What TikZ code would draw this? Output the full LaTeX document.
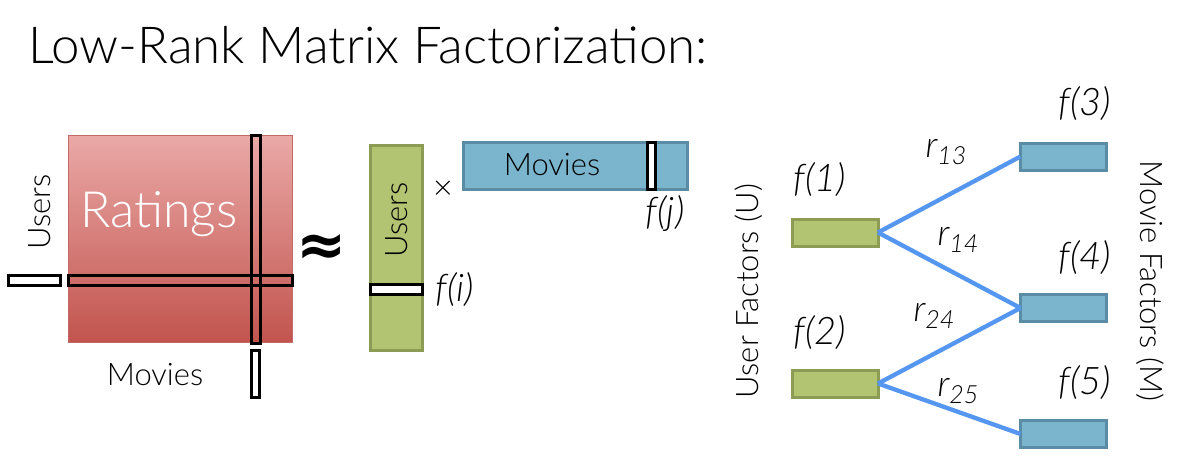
\documentclass[tikz,border=0pt]{standalone}
\usepackage{fontspec}
\setmainfont{Lato Light}[ItalicFont={Lato Light Italic}, BoldFont={Lato Bold}]
\newfontfamily\dejavu{DejaVu Sans}
\newcommand{\fsz}[1]{\fontsize{#1}{#1}\selectfont}
\newcommand{\rlab}[1]{\fsz{36}\itshape r\raisebox{-7pt}{\fsz{25}#1}}
\definecolor{ratetop}{HTML}{EAA9A7}
\definecolor{ratebot}{HTML}{C2544E}
\definecolor{rateedge}{HTML}{C46A66}
\definecolor{ufill}{HTML}{B2C372}
\definecolor{uedge}{HTML}{8C9C55}
\definecolor{mfill}{HTML}{7BB5CD}
\definecolor{medge}{HTML}{5A8CA5}
\definecolor{edgeblue}{HTML}{5597F0}
\tikzset{
  box/.style={rectangle, inner sep=0pt, outer sep=0pt},
  tab/.style={box, draw=black, line width=3pt},
  wtab/.style={tab, fill=white},
  ubox/.style={box, draw=uedge, fill=ufill, line width=3pt},
  mbox/.style={box, draw=medge, fill=mfill, line width=3pt},
  factor/.style={box, minimum width=86pt, minimum height=27pt},
  link/.style={draw=edgeblue, line width=4.3pt},
  lab/.style={inner sep=0pt, font=\fsz{31}},
  flab/.style={inner sep=0pt, font=\fsz{38}\itshape},
}
\begin{document}
\begin{tikzpicture}[x=1pt,y=-1pt]
\useasboundingbox (0,0) rectangle (1177,471);
% title
\node[anchor=base west, inner sep=0pt, font=\fsz{51}] (title) at (28,63) {Low-Rank Matrix Factorization:};
% ratings matrix
\node[box, draw=rateedge, line width=1pt, top color=ratetop, bottom color=ratebot, minimum width=224pt, minimum height=207pt] (R) at (180,238.5) {};
\node[inner sep=0pt, text=white, font=\fsz{50}] (rt) at (159,214) {Ratings};
\node[tab, minimum width=224pt, minimum height=10pt] (row) at (180,280) {};
\node[tab, minimum width=9pt, minimum height=208pt] (col) at (255.5,239) {};
\node[wtab, minimum width=52pt, minimum height=10pt] (rowtab) at (34,280) {};
\node[wtab, minimum width=8pt, minimum height=47pt] (coltab) at (255,373.5) {};
\node[lab, rotate=90] (usersL) at (40,212) {Users};
\node[lab] (moviesL) at (155,375) {Movies};
\node[inner sep=0pt, font=\dejavu\bfseries\fsz{60}] (approx) at (322,250) {≈};
% U matrix
\node[ubox, minimum width=52pt, minimum height=205pt] (U) at (396,247.5) {};
\node[lab, rotate=90] (usersU) at (397,220) {Users};
\node[wtab, minimum width=52pt, minimum height=10pt] (utab) at (396,289) {};
\node[flab] (fi) at (455,290) {f(i)};
\node[inner sep=0pt, font=\fsz{34}] (times) at (443,190) {×};
% M matrix
\node[mbox, minimum width=224pt, minimum height=47pt] (M) at (575,165.5) {};
\node[lab] (moviesM) at (552,165) {Movies};
\node[wtab, minimum width=8pt, minimum height=47pt] (mtab) at (651,165.5) {};
\node[flab] (fj) at (665,214) {f(j)};
% factor graph
\node[ubox, factor] (f1) at (835,232.5) {};
\node[ubox, factor] (f2) at (835,383.5) {};
\node[mbox, factor] (f3) at (1063.5,156.5) {};
\node[mbox, factor] (f4) at (1063.5,308) {};
\node[mbox, factor] (f5) at (1063.5,434) {};
\draw[link] (f1.east) -- (f3.west);
\draw[link] (f1.east) -- (f4.west);
\draw[link] (f2.east) -- (f4.west);
\draw[link] (f2.east) -- (f5.west);
\node[flab] (l1) at (820,180) {f(1)};
\node[flab] (l2) at (820,333) {f(2)};
\node[flab] (l3) at (1085,104) {f(3)};
\node[flab] (l4) at (1085,258) {f(4)};
\node[flab] (l5) at (1085,383) {f(5)};
\node[inner sep=0pt] (r13) at (946,152) {\rlab{13}};
\node[inner sep=0pt] (r14) at (958,240) {\rlab{14}};
\node[inner sep=0pt] (r24) at (934,316) {\rlab{24}};
\node[inner sep=0pt] (r25) at (958,391) {\rlab{25}};
\node[lab, rotate=90] (uf) at (749,291) {User Factors (U)};
\node[lab, rotate=-90] (mf) at (1150,281) {Movie Factors (M)};
\end{tikzpicture}
\end{document}
